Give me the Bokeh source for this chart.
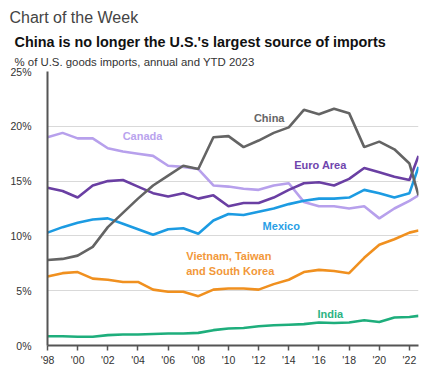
from bokeh.plotting import figure
from bokeh.models import Title, FixedTicker, PrintfTickFormatter, Range1d
from bokeh.core.properties import value
from bokeh.embed import file_html
from bokeh.resources import INLINE

# ---- data ----
years = list(range(1998, 2023))
ytd_x = 2022.6  # YTD 2023 point
x_vals = years + [ytd_x]

china = [7.8, 7.9, 8.2, 9.0, 10.8, 12.1, 13.4, 14.6, 15.5, 16.4, 16.1, 19.0, 19.1,
         18.1, 18.7, 19.4, 19.9, 21.5, 21.1, 21.6, 21.2, 18.1, 18.6, 17.9, 16.6, 13.7]
canada = [19.0, 19.4, 18.9, 18.9, 18.0, 17.7, 17.5, 17.3, 16.4, 16.3, 16.1, 14.6, 14.5,
          14.3, 14.2, 14.6, 14.8, 13.1, 12.7, 12.7, 12.5, 12.7, 11.6, 12.5, 13.2, 13.7]
euro = [14.4, 14.1, 13.5, 14.6, 15.0, 15.1, 14.5, 13.9, 13.6, 13.9, 13.4, 13.7, 12.7,
        13.0, 13.0, 13.5, 14.2, 14.8, 14.9, 14.6, 15.2, 16.2, 15.8, 15.4, 15.1, 17.3]
mexico = [10.3, 10.8, 11.2, 11.5, 11.6, 11.1, 10.6, 10.1, 10.6, 10.7, 10.2, 11.4, 12.0,
          11.9, 12.2, 12.5, 12.9, 13.2, 13.4, 13.4, 13.5, 14.2, 13.9, 13.5, 13.9, 16.3]
vtk = [6.3, 6.6, 6.7, 6.1, 6.0, 5.8, 5.8, 5.1, 4.9, 4.9, 4.5, 5.1, 5.2,
       5.2, 5.1, 5.6, 6.0, 6.7, 6.9, 6.8, 6.6, 8.0, 9.2, 9.7, 10.3, 10.5]
india = [0.85, 0.85, 0.8, 0.8, 0.95, 1.0, 1.0, 1.05, 1.1, 1.1, 1.15, 1.4, 1.55,
         1.6, 1.75, 1.85, 1.9, 1.95, 2.1, 2.05, 2.1, 2.3, 2.15, 2.55, 2.6, 2.7]

x_ticks = list(range(1998, 2023, 2))
x_tick_labels = ["'98", "'00", "'02", "'04", "'06", "'08", "'10", "'12", "'14",
                 "'16", "'18", "'20", "'22"]
y_ticks = [0, 5, 10, 15, 20, 25]

series_names = ["China", "Canada", "Euro Area", "Mexico", "Vietnam, Taiwan\nand South Korea", "India"]

FONT = "Liberation Sans"

p = figure(width=422, height=368, output_backend="svg", toolbar_location=None,
           title=None, x_range=Range1d(1998, ytd_x), y_range=Range1d(0, 25),
           min_border_left=47, min_border_right=4, min_border_bottom=20,
           min_border_top=0)
p.outline_line_color = None
p.background_fill_color = "white"
p.border_fill_color = "white"

# titles (first added = closest to plot)
sub = Title(text="% of U.S. goods imports, annual and YTD 2023", align="left",
            text_font=FONT, text_font_size="11.4px", text_font_style="normal",
            text_color="#333333", offset=-33, standoff=8)
p.add_layout(sub, "above")
main = Title(text="China is no longer the U.S.'s largest source of imports", align="left",
             text_font=FONT, text_font_size="14.4px", text_font_style="bold",
             text_color="#111111", offset=-33, standoff=0)
p.add_layout(main, "above")
top = Title(text="Chart of the Week", align="left",
            text_font=FONT, text_font_size="16px", text_font_style="normal",
            text_color="#444444", offset=-38, standoff=12)
p.add_layout(top, "above")

# grid
p.xgrid.visible = False
p.ygrid.ticker = FixedTicker(ticks=y_ticks)
p.ygrid.grid_line_color = "#d9d9d9"
p.ygrid.grid_line_width = 1

# axes
p.yaxis.ticker = FixedTicker(ticks=y_ticks)
p.yaxis.formatter = PrintfTickFormatter(format="%d%%")
p.yaxis.axis_line_color = "#555555"
p.yaxis.axis_line_width = 2
p.yaxis.major_tick_line_color = None
p.yaxis.minor_tick_line_color = None
p.yaxis.major_label_standoff = 10
p.yaxis.major_label_text_font = FONT
p.yaxis.major_label_text_font_size = "10.5px"
p.yaxis.major_label_text_color = "#333333"

p.xaxis.ticker = FixedTicker(ticks=x_ticks)
p.xaxis.major_label_overrides = {t: l for t, l in zip(x_ticks, x_tick_labels)}
p.xaxis.axis_line_color = "#555555"
p.xaxis.axis_line_width = 2
p.xaxis.major_tick_line_color = "#555555"
p.xaxis.major_tick_line_width = 1.5
p.xaxis.major_tick_out = 5
p.xaxis.major_tick_in = 0
p.xaxis.minor_tick_line_color = None
p.xaxis.major_label_standoff = 3
p.xaxis.major_label_text_font = FONT
p.xaxis.major_label_text_font_size = "10.5px"
p.xaxis.major_label_text_color = "#333333"

colors = {
    "china": "#646464",
    "canada": "#b7a0ec",
    "euro": "#6a3fa3",
    "mexico": "#1c9be2",
    "vtk": "#f0901f",
    "india": "#1eae7c",
}
label_colors = {
    "china": "#666666",
    "canada": "#b9a3ee",
    "euro": "#6f45ad",
    "mexico": "#2a9fe6",
    "vtk": "#f2983a",
    "india": "#2bb383",
}

lw = 2.6
p.line(x_vals, vtk, line_color=colors["vtk"], line_width=lw)
p.line(x_vals, india, line_color=colors["india"], line_width=lw)
p.line(x_vals, canada, line_color=colors["canada"], line_width=lw)
p.line(x_vals, mexico, line_color=colors["mexico"], line_width=lw)
p.line(x_vals, euro, line_color=colors["euro"], line_width=lw)
p.line(x_vals, china, line_color=colors["china"], line_width=lw)

def lab(x, y, txt, key, align="center"):
    p.text(x=[x], y=[y], text=[txt], text_color=label_colors[key],
           text_font=value(FONT), text_font_size="11px", text_font_style="bold",
           text_align=align, text_baseline="middle", text_line_height=1.3)

lab(2012.7, 20.8, series_names[0], "china")
lab(2004.3, 19.1, series_names[1], "canada")
lab(2016.1, 16.5, series_names[2], "euro")
lab(2013.5, 10.9, series_names[3], "mexico")
lab(2007.2, 7.5, series_names[4], "vtk", align="left")
lab(2016.75, 2.9, series_names[5], "india")

open("out.html", "w").write(file_html(p, INLINE))
